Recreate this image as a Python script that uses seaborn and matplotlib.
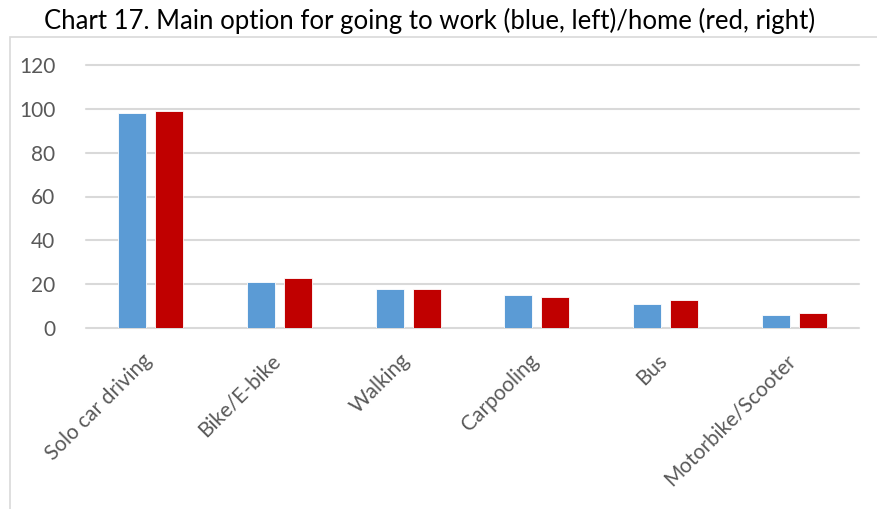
import matplotlib
matplotlib.use("Agg")
import matplotlib.pyplot as plt
import matplotlib.patches as mpatches
import matplotlib.transforms as mtransforms
import seaborn as sns
import pandas as pd

categories = ["Solo car driving", "Bike/E-bike", "Walking", "Carpooling", "Bus", "Motorbike/Scooter"]
work_values = [98, 21, 18, 15, 11, 6]
home_values = [99, 23, 18, 14, 13, 7]
series_names = ["Work", "Home"]
y_ticks = [0, 20, 40, 60, 80, 100, 120]
title = "Chart 17. Main option for going to work (blue, left)/home (red, right)"

df = pd.DataFrame({
    "mode": categories * 2,
    "value": work_values + home_values,
    "series": [series_names[0]] * len(categories) + [series_names[1]] * len(categories),
})

sns.set_theme(style="white")
plt.rcParams["font.family"] = ["Lato", "DejaVu Sans"]

fig = plt.figure(figsize=(8.77, 5.09), dpi=100)
ax = fig.add_axes([86 / 877, 1 - 328 / 509, (859 - 86) / 877, (328 - 65) / 509])

sns.barplot(
    data=df, x="mode", y="value", hue="series", order=categories,
    hue_order=series_names, palette=["#5B9BD5", "#C00000"], saturation=1,
    width=0.572, gap=0.24, ax=ax, legend=False, errorbar=None,
    edgecolor="white", linewidth=0.6,
)

ax.set_ylim(0, 120)
ax.set_xlim(-0.5, len(categories) - 0.5)
ax.set_yticks(y_ticks)
ax.set_yticklabels([str(t) for t in y_ticks], fontsize=15, color="#595959")
ax.set_xticks(range(len(categories)))
ax.set_xticklabels(categories, rotation=45, ha="right", va="top",
                   rotation_mode="anchor", fontsize=15, color="#595959")
ax.tick_params(axis="y", length=0, pad=22)
ax.tick_params(axis="x", length=0, pad=16)
# nudge the rotated category labels so their upper end sits over the bar pair
shift = mtransforms.ScaledTranslation(-9 / 100, 0, fig.dpi_scale_trans)
for lbl in ax.get_xticklabels():
    lbl.set_transform(lbl.get_transform() + shift)
ax.set_xlabel("")
ax.set_ylabel("")
for s in ax.spines.values():
    s.set_visible(False)

ax.yaxis.grid(True, color="#D9D9D9", linewidth=1.5)
ax.set_axisbelow(True)
for gl in ax.get_ygridlines():
    gl.set_clip_on(False)

fig.text(0.49, 1 - 21 / 509, title, ha="center", va="center", fontsize=18.5, color="#000000")

frame = mpatches.Rectangle((10 / 877, -0.05), 1.2, 1 - 37 / 509 + 0.05,
                           transform=fig.transFigure, fill=False,
                           edgecolor="#D9D9D9", linewidth=1.2, clip_on=False)
fig.patches.append(frame)

fig.savefig("out.png", dpi=100)
